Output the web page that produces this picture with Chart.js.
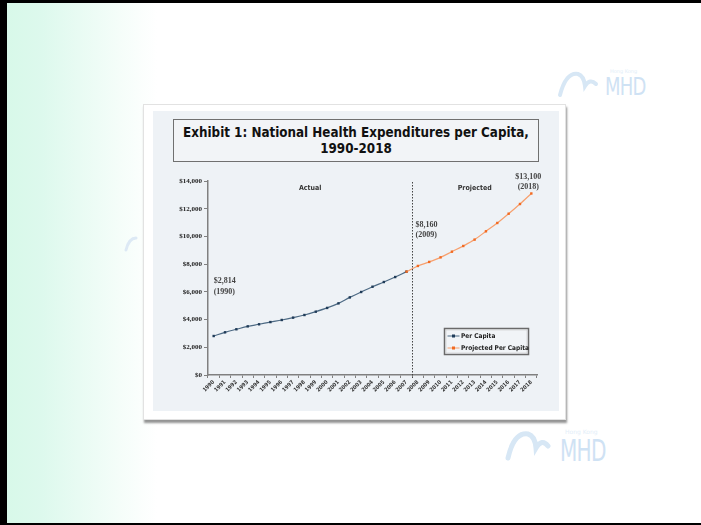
<!DOCTYPE html>
<html>
<head>
<meta charset="utf-8">
<script src="https://cdn.jsdelivr.net/npm/chart.js@4.4.1/dist/chart.umd.min.js"></script>
<style>
  html, body { margin:0; padding:0; width:701px; height:525px; overflow:hidden; background:#fff; }
  #slide { position:absolute; left:0; top:0; width:701px; height:525px; box-sizing:border-box;
    border-top:3px solid #000; border-left:7px solid #000; border-bottom:2px solid #000;
    background:linear-gradient(to right, #d8f9e9 0px, #ddf9ed 35px, #f4fdf9 110px, #ffffff 150px); }
  .wm { position:absolute; font-family:"DejaVu Sans Condensed", "DejaVu Sans", sans-serif; color:#cfe2f4; letter-spacing:-1px; transform-origin:0 0; }
  .wms { position:absolute; font-family:"DejaVu Sans", sans-serif; color:#e3eef8; font-size:5px; }
  #card { position:absolute; left:143px; top:104px; width:423px; height:316px; background:#fff;
    border:1px solid #e2e2e2; box-sizing:border-box; box-shadow:1px 3px 2px rgba(60,60,60,0.55); }
  #panel { position:absolute; left:153px; top:111px; width:406px; height:300px; background:#eef2f6; }
  #title { position:absolute; left:173px; top:119px; width:366px; height:43px; box-sizing:border-box;
    border:1.5px solid #707070; background:#f2f4f7; text-align:center;
    font-family:"DejaVu Sans Condensed", "DejaVu Sans", sans-serif; font-weight:bold; color:#111; }
  #title div { position:absolute; left:0; width:100%; white-space:nowrap; }
  #cv { position:absolute; left:153px; top:165px; }
</style>
</head>
<body>
<div id="slide"></div>
<svg style="position:absolute;left:0;top:0" width="701" height="525">
  <path d="M560 95 Q566 72 578 74 Q584 76 585 86 Q590 78 596 84" fill="none" stroke="#d7e7f5" stroke-width="4" stroke-linecap="round"/>
  <path d="M508 458 Q514 432 528 434 Q535 436 536 448 Q542 438 548 446" fill="none" stroke="#d7e7f5" stroke-width="5" stroke-linecap="round"/>
  <path d="M126 250 Q129 238 136 238" fill="none" stroke="#dde9f5" stroke-width="3" stroke-linecap="round"/>
</svg>
<div class="wms" style="left:610px;top:68px;">Hong Kong</div>
<div class="wm" style="left:605px;top:72px;font-size:25px;transform:scaleX(0.8);">MHD</div>
<div class="wms" style="left:565px;top:428px;font-size:6px;">Hong Kong</div>
<div class="wm" style="left:560px;top:432px;font-size:31px;transform:scaleX(0.72);">MHD</div>
<div id="card"></div>
<div id="panel"></div>
<div id="title"><div id="t1">Exhibit 1: National Health Expenditures per Capita,</div><div id="t2">1990-2018</div></div>
<canvas id="cv" width="406" height="246"></canvas>
<script>
// ---- data ----
const years = ['1990','1991','1992','1993','1994','1995','1996','1997','1998','1999','2000','2001','2002','2003','2004','2005','2006','2007','2008','2009','2010','2011','2012','2013','2014','2015','2016','2017','2018'];
const actualYears = ['1990','1991','1992','1993','1994','1995','1996','1997','1998','1999','2000','2001','2002','2003','2004','2005','2006','2007'];
const perCapita = [2814, 3080, 3300, 3510, 3660, 3820, 3970, 4140, 4330, 4570, 4840, 5170, 5600, 5990, 6370, 6710, 7070, 7460];
const projectedYears = ['2007','2008','2009','2010','2011','2012','2013','2014','2015','2016','2017','2018'];
const projectedPerCapita = [7460, 7870, 8160, 8490, 8900, 9310, 9770, 10370, 10970, 11640, 12340, 13100];
const yTicks = [0, 2000, 4000, 6000, 8000, 10000, 12000, 14000];
const lastActualYear = '2007';
const seriesNames = ['Per Capita', 'Projected Per Capita'];

// fit title text
(function(){
  const t1 = document.getElementById('t1'), t2 = document.getElementById('t2');
  const c = document.createElement('canvas').getContext('2d');
  c.font = 'bold 20px "DejaVu Sans Condensed"';
  const w = c.measureText(t1.textContent).width;
  const fs = 20 * 346 / w;
  t1.style.fontSize = fs + 'px'; t2.style.fontSize = fs + 'px';
  t1.style.top = (13 - fs*0.62) + 'px';
  t2.style.top = (29 - fs*0.62) + 'px';
})();

const blueData = years.map(y => { const i = actualYears.indexOf(y); return i >= 0 ? perCapita[i] : null; });
const orangeData = years.map(y => { const i = projectedYears.indexOf(y); return i >= 0 ? projectedPerCapita[i] : null; });

const BLUE_LINE = '#4d6a84', BLUE_PT = '#1f3b58';
const ORANGE_LINE = '#f7a06e', ORANGE_PT = '#f26a21';

const overlay = {
  id: 'overlay',
  afterDatasetsDraw(chart) {
    const ctx = chart.ctx, xs = chart.scales.x, ys = chart.scales.y, ca = chart.chartArea;
    const divIdx = years.indexOf(lastActualYear) + 0.5;
    const dx = Math.round(xs.getPixelForValue(divIdx)) + 0.5;
    ctx.save();
    ctx.strokeStyle = '#444'; ctx.lineWidth = 1; ctx.setLineDash([1.5, 1.5]);
    ctx.beginPath(); ctx.moveTo(dx, ca.top + 1); ctx.lineTo(dx, ca.bottom + 3); ctx.stroke();
    ctx.setLineDash([]);
    ctx.fillStyle = '#333'; ctx.textBaseline = 'middle'; ctx.textAlign = 'center';
    ctx.font = 'bold 7px "DejaVu Sans Condensed"';
    ctx.fillText('Actual', (ca.left + dx) / 2, ca.top + 7);
    ctx.fillText('Projected', (dx + ca.right) / 2, ca.top + 7);
    ctx.font = 'bold 8px "Liberation Serif"';
    ctx.fillStyle = '#444';
    ctx.textAlign = 'left';
    const x0 = xs.getPixelForValue(0);
    const yA = ys.getPixelForValue(6760);
    ctx.fillText('$2,814', x0, yA);
    ctx.fillText('(1990)', x0, yA + 11);
    const yB = ys.getPixelForValue(10860);
    ctx.fillText('$8,160', dx + 3, yB);
    ctx.fillText('(2009)', dx + 3, yB + 10);
    ctx.textAlign = 'center';
    const xL = xs.getPixelForValue(years.length - 1) - 3;
    ctx.fillText('$13,100', xL, ca.top - 4);
    ctx.fillText('(2018)', xL, ca.top + 6);
    const bw = 84, bh = 26;
    const bx = ca.right - 8.5 - bw, by = ca.bottom - 20.5 - bh;
    ctx.fillStyle = '#f1f4f7'; ctx.fillRect(bx, by, bw, bh);
    ctx.strokeStyle = '#6a6a6a'; ctx.lineWidth = 1.5; ctx.strokeRect(bx, by, bw, bh);
    ctx.strokeStyle = '#c8c8c8'; ctx.lineWidth = 0.6; ctx.strokeRect(bx + 1.5, by + 1.5, bw - 3, bh - 3);
    const items = [[seriesNames[0], BLUE_LINE, BLUE_PT], [seriesNames[1], ORANGE_LINE, ORANGE_PT]];
    ctx.font = 'bold 6.5px "DejaVu Sans Condensed"'; ctx.textAlign = 'left';
    items.forEach((it, k) => {
      const yy = by + 7.5 + k * 12;
      ctx.strokeStyle = it[1]; ctx.lineWidth = 1;
      ctx.beginPath(); ctx.moveTo(bx + 3, yy); ctx.lineTo(bx + 15, yy); ctx.stroke();
      ctx.fillStyle = it[2]; ctx.fillRect(bx + 7.5, yy - 1.5, 3, 3);
      ctx.fillStyle = '#222'; ctx.fillText(it[0], bx + 16.5, yy);
    });
    ctx.restore();
  }
};

new Chart(document.getElementById('cv'), {
  type: 'line',
  data: {
    labels: years,
    datasets: [
      { label: seriesNames[1], data: orangeData, order: 0, borderColor: ORANGE_LINE, borderWidth: 1.2,
        pointStyle: 'rect', pointRadius: 1.7, pointBackgroundColor: ORANGE_PT, pointBorderColor: ORANGE_PT, pointBorderWidth: 0,
        tension: 0.3, cubicInterpolationMode: 'monotone', spanGaps: false },
      { label: seriesNames[0], data: blueData, order: 1, borderColor: BLUE_LINE, borderWidth: 1.2,
        pointStyle: 'rect', pointRadius: 1.7, pointBackgroundColor: BLUE_PT, pointBorderColor: BLUE_PT, pointBorderWidth: 0,
        tension: 0.3, cubicInterpolationMode: 'monotone', spanGaps: false }
    ]
  },
  options: {
    responsive: false, animation: false, devicePixelRatio: 1,
    layout: { padding: { left: 0, top: 16, right: 22, bottom: 0 } },
    plugins: { legend: { display: false }, tooltip: { enabled: false }, title: { display: false } },
    scales: {
      x: {
        offset: true,
        grid: { offset: true, drawOnChartArea: false, drawTicks: true, tickLength: 3, color: '#808080', lineWidth: 1 },
        border: { color: '#808080', width: 1.5 },
        ticks: { autoSkip: false, maxRotation: 45, minRotation: 45, padding: 1, color: '#333',
          font: { family: '"DejaVu Sans Condensed"', size: 5.5, weight: 'bold' } },
        afterFit: s => { s.height = 36; }
      },
      y: {
        min: 0, max: 14000,
        afterBuildTicks: s => { s.ticks = yTicks.map(v => ({ value: v })); },
        grid: { drawOnChartArea: false, drawTicks: true, tickLength: 4, color: '#808080', lineWidth: 1 },
        border: { color: '#808080', width: 1.5 },
        ticks: { padding: 2, color: '#222', font: { family: '"Liberation Serif"', size: 7, weight: 'bold' },
          callback: v => '$' + v.toLocaleString('en-US') },
        afterFit: s => { s.width = 55; }
      }
    }
  },
  plugins: [overlay]
});
</script>
</body>
</html>
